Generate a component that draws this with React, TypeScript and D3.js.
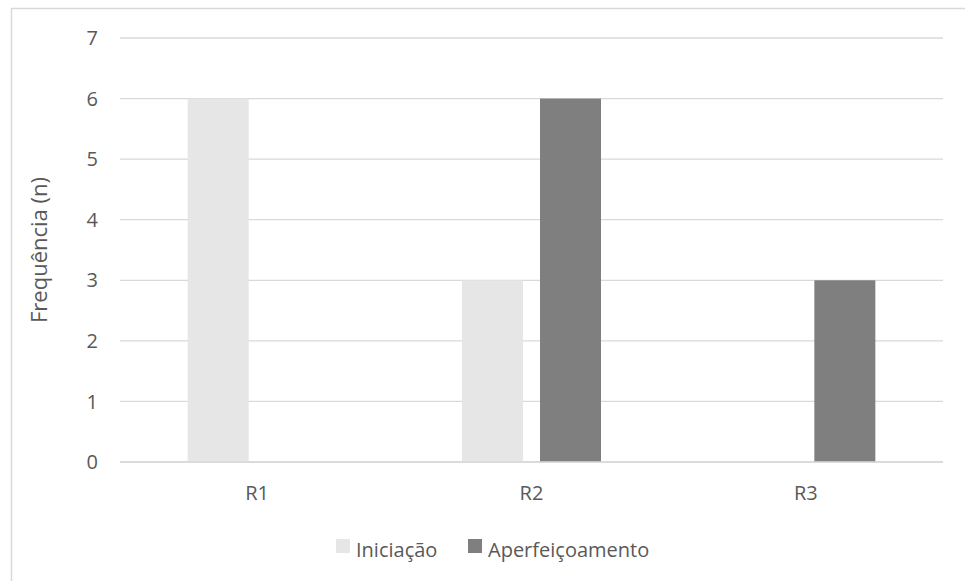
import React from "react";
import * as d3 from "d3";

const categories = ["R1", "R2", "R3"];
const seriesNames = ["Iniciação", "Aperfeiçoamento"];
const iniciacao = [6, 3, 0];
const aperfeicoamento = [0, 6, 3];
const yTicks = [0, 1, 2, 3, 4, 5, 6, 7];
const colors = ["#e7e6e6", "#7f7f7f"];

export default function App() {
  const W = 965, H = 581;
  const left = 120, right = 943, top = 38, bottom = 462;
  const x = d3.scaleBand<string>().domain(categories).range([left, right]);
  const y = d3.scaleLinear().domain([0, 7]).range([bottom, top]);
  const barW = 61;
  const gap = 17;
  const series = [iniciacao, aperfeicoamento];
  const font = "'Open Sans', sans-serif";
  const textColor = "#595959";

  return (
    <svg width={W} height={H} style={{ position: "absolute", left: 0, top: 0 }} fontFamily={font}>
      <rect x={0} y={0} width={W} height={H} fill="#fff" />
      <rect x={11.5} y={8.5} width={980} height={600} fill="#fff" stroke="#d9d9d9" strokeWidth={1.5} />
      {yTicks.map((t) => (
        <g key={t}>
          <line x1={left} x2={right} y1={y(t)} y2={y(t)} stroke="#d9d9d9" strokeWidth={1.3} />
          <text x={98} y={y(t)} dy="0.36em" textAnchor="end" fontSize={20} fill={textColor}>{t}</text>
        </g>
      ))}
      {categories.map((c, i) => {
        const cx = (x(c) as number) + x.bandwidth() / 2;
        return (
          <g key={c}>
            {series.map((s, j) => {
              const bx = cx - gap / 2 - barW + j * (barW + gap);
              return (
                <rect key={j} x={bx} y={y(s[i])} width={barW} height={y(0) - y(s[i])} fill={colors[j]} />
              );
            })}
            <text x={cx} y={500} textAnchor="middle" fontSize={20} fill={textColor}>{c}</text>
          </g>
        );
      })}
      <line x1={left} x2={right} y1={y(0)} y2={y(0)} stroke="#d9d9d9" strokeWidth={1.3} />
      <text transform={`translate(47,${(top + bottom) / 2}) rotate(-90)`} textAnchor="middle" fontSize={22} fill={textColor}>Frequência (n)</text>
      <g>
        <rect x={336} y={539} width={14} height={14} fill={colors[0]} />
        <text x={356} y={557} fontSize={20} fill={textColor}>{seriesNames[0]}</text>
        <rect x={468} y={539} width={14} height={14} fill={colors[1]} />
        <text x={488} y={557} fontSize={20} fill={textColor}>{seriesNames[1]}</text>
      </g>
    </svg>
  );
}
